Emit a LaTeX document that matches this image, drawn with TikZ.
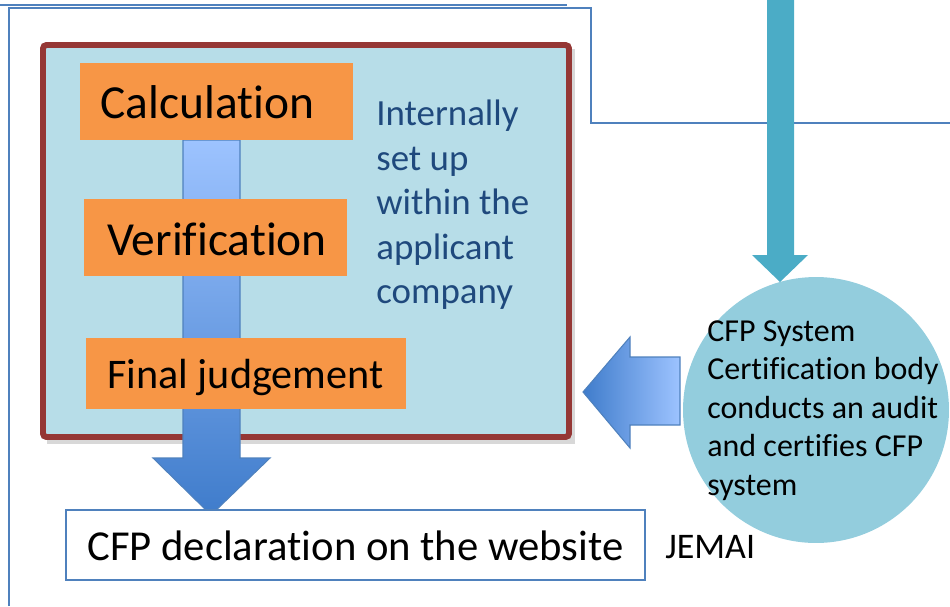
\documentclass[tikz,border=0pt]{standalone}
\usepackage{fontspec}
\setmainfont[Ligatures=NoCommon]{Carlito}
\usetikzlibrary{calc}
\definecolor{frameblue}{HTML}{4F81BD}
\definecolor{panelred}{HTML}{953735}
\definecolor{panelfill}{HTML}{B7DDE8}
\definecolor{steporange}{HTML}{F79646}
\definecolor{notetext}{HTML}{1F497D}
\definecolor{tealarrow}{HTML}{4BACC6}
\definecolor{bodycircle}{HTML}{93CDDD}
\definecolor{arrowlight}{HTML}{9DC3FF}
\definecolor{arrowdark}{HTML}{3F7CCB}

\tikzset{
	frameline/.style={line width=0.85pt, color=frameblue},
	panelbox/.style={line width=3.4pt, draw=panelred, fill=panelfill, rounded corners=2pt},
	stepbox/.style={fill=steporange},
	steptext/.style={inner sep=0pt, anchor=base west, font=\fontsize{27}{32}\selectfont},
	notelabel/.style={inner sep=0pt, anchor=north west, align=left, color=notetext, font=\fontsize{21}{25.3}\selectfont},
	bodylabel/.style={inner sep=0pt, anchor=north west, align=left, font=\fontsize{18.2}{21.9}\selectfont},
	declbox/.style={line width=0.85pt, draw=frameblue, fill=white},
}

\begin{document}
\begin{tikzpicture}[x=0.02cm, y=-0.02cm]
			%%%%% START %%%%%
			\useasboundingbox (0,0) rectangle (950,606);
			
			\draw[frameline] (0,5) -- (567,5);
			\draw[frameline] (9,606) -- (9,8) -- (591,8) -- (591,123) -- (950,123);
			
			% company panel
			\fill[black!30, opacity=0.5] (47,49) rectangle (575,444);
			\draw[panelbox] (43,45) rectangle (569,437);
			
			% flow arrow behind the steps
			\shade[top color=arrowlight, bottom color=arrowdark, draw=frameblue, line width=0.6pt]
				(183,140) -- (240,140) -- (240,458) -- (270,458) -- (211,515) -- (153,458) -- (183,458) -- cycle;
			
			\fill[stepbox] (80,63) rectangle (353,140);
			\node[steptext] (calc) at (100,118) {Calculation};
			
			\fill[stepbox] (84,199) rectangle (347,276);
			\node[steptext] (verif) at (107,255) {Verification};
			
			\fill[stepbox] (86,338) rectangle (406,409);
			\node[steptext, font=\fontsize{24}{29}\selectfont] (judge) at (107,388) {Final judgement};
			
			\node[notelabel] (internal) at (376,100) {Internally\\set up\\within the\\applicant\\company};
			
			% certification body
			\fill[bodycircle] (816,410) circle[radius=2.66cm];
			\node[bodylabel] (certbody) at (707,320) {CFP System\\Certification body\\conducts an audit\\and certifies CFP\\system};
			
			\fill[tealarrow] (767,-2) -- (794,-2) -- (794,255) -- (808,255) -- (780,282) -- (752,255) -- (767,255) -- cycle;
			
			\shade[left color=arrowdark, right color=arrowlight, draw=frameblue, line width=0.6pt]
				(583,392) -- (630,337) -- (630,357) -- (680,357) -- (680,425) -- (630,425) -- (630,448) -- cycle;
			
			% declaration
			\draw[declbox] (66,510) rectangle (645,580);
			\node[steptext, font=\fontsize{24.3}{29}\selectfont] (decl) at (87,560) {CFP declaration on the website};
			\node[steptext, font=\fontsize{20.5}{25}\selectfont] (jemai) at (665,558) {JEMAI};
			
			%%%%% END %%%%%
\end{tikzpicture}
\end{document}
